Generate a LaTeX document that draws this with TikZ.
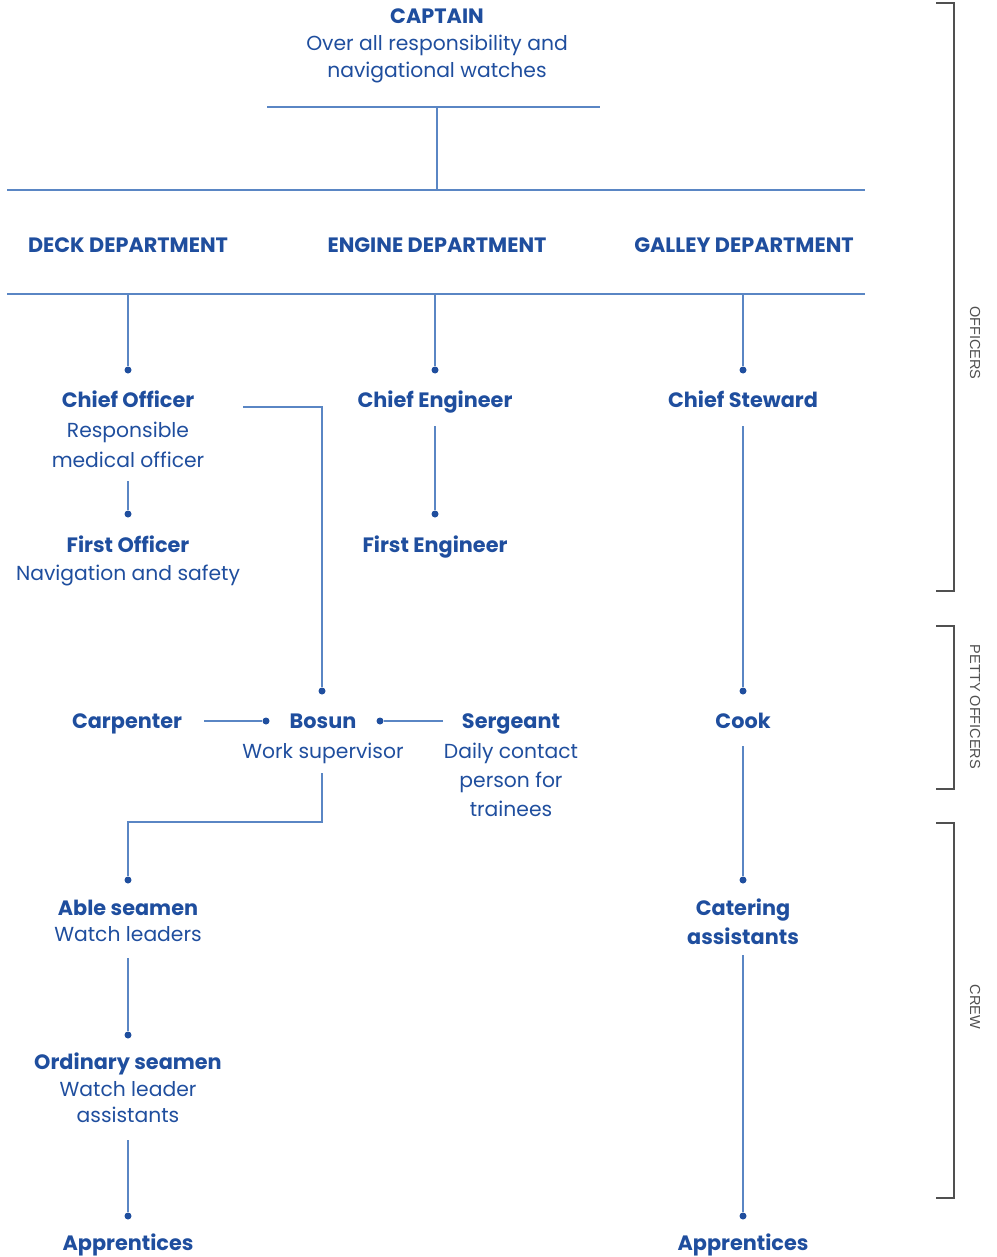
\documentclass[tikz,border=0pt]{standalone}
\usepackage{fontspec}
\newfontfamily\pf{Poppins}
\newfontfamily\lf{Liberation Sans}
\definecolor{tblue}{HTML}{1F4E9E}
\definecolor{lblue}{HTML}{5A86C4}
\definecolor{bgray}{HTML}{505050}
\begin{document}
\begin{tikzpicture}[x=1pt,y=-1pt,
  ttl/.style={font=\pf\bfseries\fontsize{20.8}{25}\selectfont, text=tblue, anchor=base, inner sep=0},
  dsc/.style={font=\pf\fontsize{20.3}{25}\selectfont, text=tblue, anchor=base, inner sep=0},
  conn/.style={draw=lblue, line width=1.2pt},
  dot/.style={circle, fill=tblue, inner sep=0, minimum size=7pt},
  brk/.style={draw=bgray, line width=1.2pt},
  grp/.style={font=\lf\fontsize{14.5}{17}\selectfont, text=bgray, rotate=-90, inner sep=0}]
\path[use as bounding box] (0,0) rectangle (996,1257);

% Captain
\node[ttl] (cap) at (437,24) {CAPTAIN};
\node[dsc] (cap1) at (437,51) {Over all responsibility and};
\node[dsc] (cap2) at (437,78) {navigational watches};
\coordinate (tl) at (267,107); \coordinate (tr) at (600,107); \coordinate (tm) at (437,107);
\coordinate (bl) at (7,190); \coordinate (br) at (865,190); \coordinate (bm) at (437,190);
\draw[conn] (tl) -- (tr);
\draw[conn] (tm) -- (bm);
\draw[conn] (bl) -- (br);

% Departments
\node[ttl] (deck) at (128,253) {DECK DEPARTMENT};
\node[ttl] (eng) at (437,253) {ENGINE DEPARTMENT};
\node[ttl] (gal) at (744,253) {GALLEY DEPARTMENT};
\coordinate (dl) at (7,294); \coordinate (dr) at (865,294);
\draw[conn] (dl) -- (dr);

% Officers
\node[dot] (dco) at (128,370) {};
\node[dot] (dce) at (435,370) {};
\node[dot] (dcs) at (743,370) {};
\draw[conn] (dco |- dl) -- (dco);
\draw[conn] (dce |- dl) -- (dce);
\draw[conn] (dcs |- dl) -- (dcs);

\node[ttl] (co) at (128,407) {Chief Officer};
\node[dsc] (co1) at (128,437) {Responsible};
\node[dsc] (co2) at (128,467) {medical officer};
\node[ttl] (ce) at (435,407) {Chief Engineer};
\node[ttl] (cs) at (743,407) {Chief Steward};

\node[dot] (dfo) at (128,514) {};
\coordinate (co-b) at (128,481);
\draw[conn] (co-b) -- (dfo);
\node[ttl] (fo) at (128,552) {First Officer};
\node[dsc] (fo1) at (128,580) {Navigation and safety};

\node[dot] (dfe) at (435,514) {};
\coordinate (ce-b) at (435,426);
\draw[conn] (ce-b) -- (dfe);
\node[ttl] (fe) at (435,552) {First Engineer};

% Petty officers
\node[ttl] (car) at (127,728) {Carpenter};
\node[ttl] (bo) at (323,728) {Bosun};
\node[dsc] (bo1) at (323,758) {Work supervisor};
\node[ttl] (se) at (511,728) {Sergeant};
\node[dsc] (se1) at (511,758) {Daily contact};
\node[dsc] (se2) at (511,787) {person for};
\node[dsc] (se3) at (511,816) {trainees};
\node[ttl] (ck) at (743,728) {Cook};

\node[dot] (dbo) at (322,691) {};
\coordinate (co-r) at (243,407);
\draw[conn] (co-r) -| (dbo);
\node[dot] (dbl) at (266,721) {};
\coordinate (car-r) at (204,721);
\draw[conn] (car-r) -- (dbl);
\node[dot] (dbr) at (380,721) {};
\coordinate (se-l) at (443,721);
\draw[conn] (se-l) -- (dbr);
\node[dot] (dck) at (743,691) {};
\coordinate (cs-b) at (743,426);
\draw[conn] (cs-b) -- (dck);

% Crew
\node[dot] (das) at (128,880) {};
\coordinate (bo-b) at (322,773);
\coordinate (bo-k) at (322,822);
\draw[conn] (bo-b) -- (bo-k) -| (das);
\node[ttl] (as) at (128,915) {Able seamen};
\node[dsc] (as1) at (128,941) {Watch leaders};

\node[dot] (dos) at (128,1035) {};
\coordinate (as-b) at (128,958);
\draw[conn] (as-b) -- (dos);
\node[ttl] (os) at (128,1069) {Ordinary seamen};
\node[dsc] (os1) at (128,1096) {Watch leader};
\node[dsc] (os2) at (128,1122) {assistants};

\node[dot] (dap) at (128,1216) {};
\coordinate (os-b) at (128,1140);
\draw[conn] (os-b) -- (dap);
\node[ttl] (ap) at (128,1250) {Apprentices};

\node[dot] (dca) at (743,880) {};
\coordinate (ck-b) at (743,746);
\draw[conn] (ck-b) -- (dca);
\node[ttl] (ca) at (743,915) {Catering};
\node[ttl] (ca2) at (743,944) {assistants};

\node[dot] (dap2) at (743,1216) {};
\coordinate (ca-b) at (743,955);
\draw[conn] (ca-b) -- (dap2);
\node[ttl] (ap2) at (743,1250) {Apprentices};

% Brackets
\coordinate (b1t) at (936,3); \coordinate (b1b) at (936,591);
\draw[brk] (b1t) -| (954,591) -- (b1b);
\node[grp] (g1) at (975,343) {OFFICERS};
\coordinate (b2t) at (936,626); \coordinate (b2b) at (936,789);
\draw[brk] (b2t) -| (954,789) -- (b2b);
\node[grp] (g2) at (975,707) {PETTY OFFICERS};
\coordinate (b3t) at (936,823); \coordinate (b3b) at (936,1198);
\draw[brk] (b3t) -| (954,1198) -- (b3b);
\node[grp] (g3) at (975,1007) {CREW};
\end{tikzpicture}
\end{document}
